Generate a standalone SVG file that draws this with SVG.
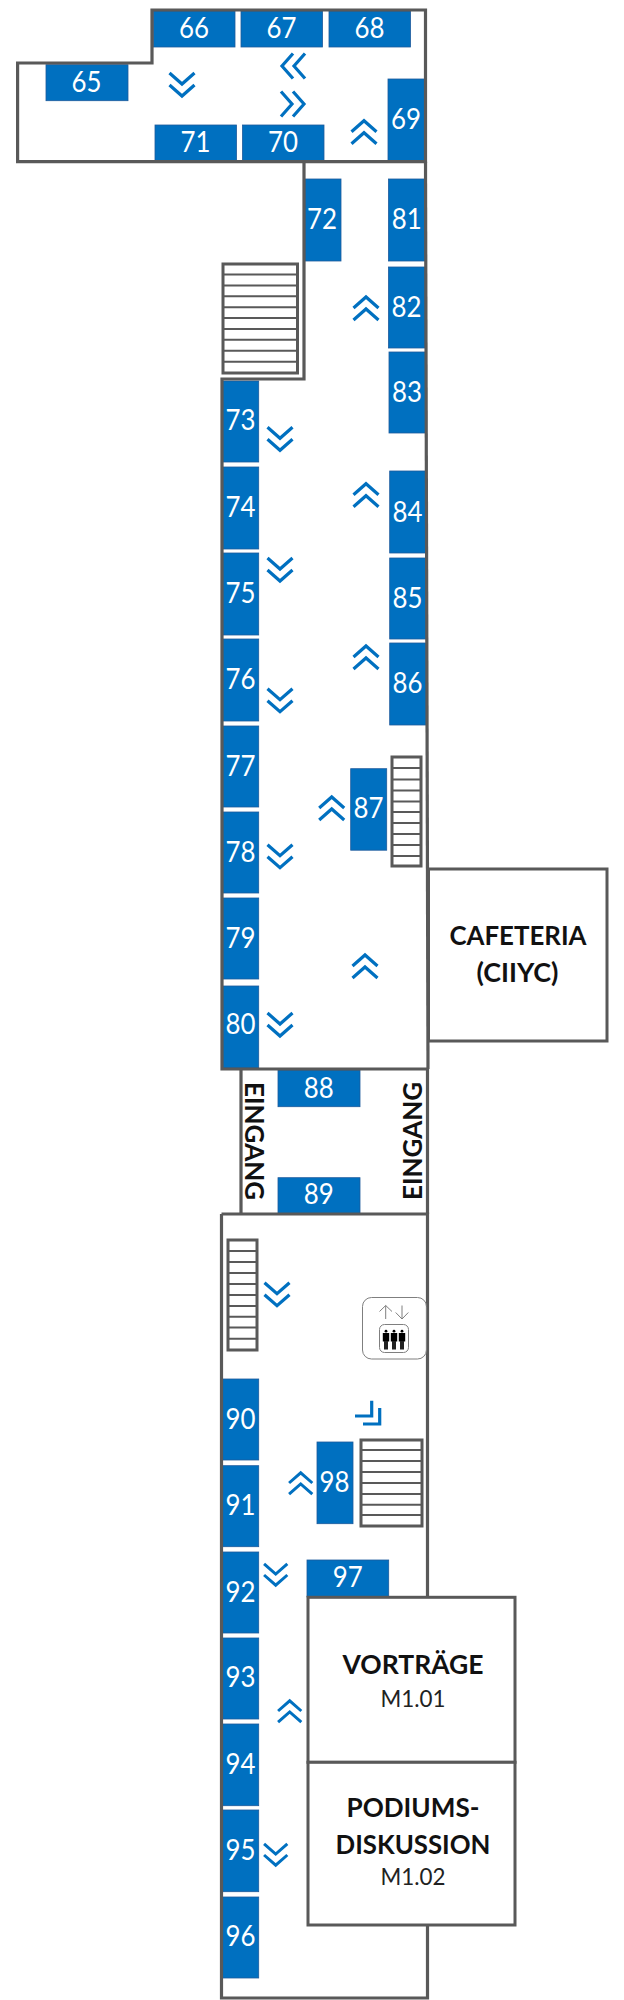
<svg xmlns="http://www.w3.org/2000/svg" xmlns:xlink="http://www.w3.org/1999/xlink" width="624" height="2000" viewBox="0 0 624 2000">
<style>
.bx{fill:#0070c0;stroke:#1d5a9c;stroke-width:.8}
.n{font-family:Lato,"Liberation Sans",sans-serif;font-size:29.5px;fill:#fff;text-anchor:middle}
.w{fill:none;stroke:#595959;stroke-width:3.2;stroke-linejoin:miter}
.room{fill:#fff;stroke:#595959;stroke-width:3}
.st{fill:#fff;stroke:#595959;stroke-width:3}
.tr{fill:none;stroke:#595959;stroke-width:2}
.l{font-family:Lato,"Liberation Sans",sans-serif;font-weight:700;font-size:26.5px;fill:#111;text-anchor:middle}
.s{font-family:Lato,"Liberation Sans",sans-serif;font-size:23px;fill:#222;text-anchor:middle}
.ch{fill:none;stroke:#0070c0;stroke-width:3.2}
.eg{fill:none;stroke:#7f7f7f;stroke-width:1}
</style>
<defs>
<path id="dn" class="ch" d="M-12.5,-12 L0,-1 L12.5,-12 M-12.5,0 L0,11 L12.5,0"/>
<g id="person"><circle cx="0" cy="1.2" r="1.4" fill="#000"/><rect x="-3.2" y="3" width="6.4" height="8.5" fill="#000"/><rect x="-2" y="11" width="4" height="8.5" fill="#222"/></g>
</defs>
<rect width="624" height="2000" fill="#fff"/>
<g id="booths">
<g id="b65"><rect class="bx" x="46" y="64.7" width="82" height="36"/><text class="n" x="86.5" y="91.7" textLength="30" lengthAdjust="spacingAndGlyphs">65</text></g>
<g id="b66"><rect class="bx" x="153.5" y="11" width="81.5" height="36"/><text class="n" x="194" y="37.5" textLength="30" lengthAdjust="spacingAndGlyphs">66</text></g>
<g id="b67"><rect class="bx" x="241" y="11" width="81.5" height="36"/><text class="n" x="281.5" y="37.5" textLength="30" lengthAdjust="spacingAndGlyphs">67</text></g>
<g id="b68"><rect class="bx" x="329" y="11" width="81.5" height="36"/><text class="n" x="369.5" y="37.5" textLength="30" lengthAdjust="spacingAndGlyphs">68</text></g>
<g id="b69"><rect class="bx" x="388" y="79" width="37" height="82"/><text class="n" x="406" y="129" textLength="30" lengthAdjust="spacingAndGlyphs">69</text></g>
<g id="b70"><rect class="bx" x="242.5" y="125" width="81.5" height="36"/><text class="n" x="283" y="152" textLength="30" lengthAdjust="spacingAndGlyphs">70</text></g>
<g id="b71"><rect class="bx" x="155" y="125" width="81.5" height="36"/><text class="n" x="195.5" y="152" textLength="30" lengthAdjust="spacingAndGlyphs">71</text></g>
<g id="b72"><rect class="bx" x="305" y="179" width="36" height="82"/><text class="n" x="322" y="229.3" textLength="30" lengthAdjust="spacingAndGlyphs">72</text></g>
<g id="b73"><rect class="bx" x="222.7" y="381" width="36" height="81"/><text class="n" x="240.6" y="430" textLength="30" lengthAdjust="spacingAndGlyphs">73</text></g>
<g id="b74"><rect class="bx" x="222.7" y="467" width="36" height="82"/><text class="n" x="240.6" y="517" textLength="30" lengthAdjust="spacingAndGlyphs">74</text></g>
<g id="b75"><rect class="bx" x="222.7" y="553" width="36" height="82"/><text class="n" x="240.6" y="603" textLength="30" lengthAdjust="spacingAndGlyphs">75</text></g>
<g id="b76"><rect class="bx" x="222.7" y="639" width="36" height="82"/><text class="n" x="240.6" y="689" textLength="30" lengthAdjust="spacingAndGlyphs">76</text></g>
<g id="b77"><rect class="bx" x="222.7" y="726" width="36" height="81"/><text class="n" x="240.6" y="776" textLength="30" lengthAdjust="spacingAndGlyphs">77</text></g>
<g id="b78"><rect class="bx" x="222.7" y="812" width="36" height="81"/><text class="n" x="240.6" y="861.7" textLength="30" lengthAdjust="spacingAndGlyphs">78</text></g>
<g id="b79"><rect class="bx" x="222.7" y="898" width="36" height="81"/><text class="n" x="240.6" y="947.7" textLength="30" lengthAdjust="spacingAndGlyphs">79</text></g>
<g id="b80"><rect class="bx" x="222.7" y="986" width="36" height="82"/><text class="n" x="240.6" y="1034" textLength="30" lengthAdjust="spacingAndGlyphs">80</text></g>
<g id="b81"><rect class="bx" x="388.5" y="179" width="36.5" height="82"/><text class="n" x="406.8" y="229.3" textLength="30" lengthAdjust="spacingAndGlyphs">81</text></g>
<g id="b82"><rect class="bx" x="388.5" y="267" width="36.5" height="81"/><text class="n" x="406.5" y="316.7" textLength="30" lengthAdjust="spacingAndGlyphs">82</text></g>
<g id="b83"><rect class="bx" x="389" y="352" width="37" height="81"/><text class="n" x="407" y="401.7" textLength="30" lengthAdjust="spacingAndGlyphs">83</text></g>
<g id="b84"><rect class="bx" x="389.7" y="471" width="36.5" height="82"/><text class="n" x="407.5" y="521.7" textLength="30" lengthAdjust="spacingAndGlyphs">84</text></g>
<g id="b85"><rect class="bx" x="389.7" y="558" width="36.5" height="81"/><text class="n" x="407.5" y="608" textLength="30" lengthAdjust="spacingAndGlyphs">85</text></g>
<g id="b86"><rect class="bx" x="389.7" y="643" width="36.5" height="82"/><text class="n" x="407.5" y="693.3" textLength="30" lengthAdjust="spacingAndGlyphs">86</text></g>
<g id="b87"><rect class="bx" x="350.7" y="768.7" width="36" height="81.5"/><text class="n" x="368.5" y="818.3" textLength="30" lengthAdjust="spacingAndGlyphs">87</text></g>
<g id="b88"><rect class="bx" x="278" y="1070" width="82" height="36.7"/><text class="n" x="318.7" y="1097.7" textLength="30" lengthAdjust="spacingAndGlyphs">88</text></g>
<g id="b89"><rect class="bx" x="278" y="1177.7" width="82" height="36"/><text class="n" x="318.7" y="1204.3" textLength="30" lengthAdjust="spacingAndGlyphs">89</text></g>
<g id="b90"><rect class="bx" x="222.7" y="1379" width="36" height="81"/><text class="n" x="240.6" y="1429" textLength="30" lengthAdjust="spacingAndGlyphs">90</text></g>
<g id="b91"><rect class="bx" x="222.7" y="1465.7" width="36" height="81"/><text class="n" x="240.6" y="1515" textLength="30" lengthAdjust="spacingAndGlyphs">91</text></g>
<g id="b92"><rect class="bx" x="222.7" y="1552" width="36" height="81"/><text class="n" x="240.6" y="1601.7" textLength="30" lengthAdjust="spacingAndGlyphs">92</text></g>
<g id="b93"><rect class="bx" x="222.7" y="1638" width="36" height="81"/><text class="n" x="240.6" y="1687.3" textLength="30" lengthAdjust="spacingAndGlyphs">93</text></g>
<g id="b94"><rect class="bx" x="222.7" y="1724" width="36" height="81.7"/><text class="n" x="240.6" y="1774" textLength="30" lengthAdjust="spacingAndGlyphs">94</text></g>
<g id="b95"><rect class="bx" x="222.7" y="1810" width="36" height="81.7"/><text class="n" x="240.6" y="1860" textLength="30" lengthAdjust="spacingAndGlyphs">95</text></g>
<g id="b96"><rect class="bx" x="222.7" y="1897" width="36" height="81"/><text class="n" x="240.6" y="1946" textLength="30" lengthAdjust="spacingAndGlyphs">96</text></g>
<g id="b97"><rect class="bx" x="307" y="1560" width="81.7" height="37"/><text class="n" x="347.7" y="1587.3" textLength="30" lengthAdjust="spacingAndGlyphs">97</text></g>
<g id="b98"><rect class="bx" x="317" y="1442" width="36" height="81.7"/><text class="n" x="334.5" y="1491.7" textLength="30" lengthAdjust="spacingAndGlyphs">98</text></g>
</g>
<g id="walls">
<path class="w" d="M17.6,63 H152 V10 H425.5 V161.7 H17.6 Z"/>
<path class="w" d="M304,161.7 V379 H222 V1069 H427.5"/>
<path class="w" d="M425.5,161.7 L428,1069"/>
<path class="w" d="M241,1069 V1214"/>
<path class="w" d="M427.5,1069 V1214"/>
<path class="w" d="M221.5,1214 H427.5 V1597"/>
<path class="w" d="M427.5,1925 V1998 H221.5 V1214"/>
</g>
<g id="stairs">
<g id="stair-a"><rect class="st" x="223" y="264" width="74.5" height="109"/><path class="tr" d="M223,274.5H297.5M223,285.4H297.5M223,296.3H297.5M223,307.2H297.5M223,318H297.5M223,329H297.5M223,339.8H297.5M223,350.7H297.5M223,361.7H297.5"/></g>
<g id="stair-b"><rect class="st" x="392" y="757" width="29" height="109"/><path class="tr" d="M392,768H421M392,779.5H421M392,790.5H421M392,801.5H421M392,812H421M392,823H421M392,834H421M392,845H421M392,856H421"/></g>
<g id="stair-c"><rect class="st" x="228" y="1240" width="29" height="110"/><path class="tr" d="M228,1251H257M228,1262H257M228,1273H257M228,1284H257M228,1295H257M228,1306H257M228,1316.7H257M228,1327.5H257M228,1338.7H257"/></g>
<g id="stair-d"><rect class="st" x="361" y="1440" width="61" height="86"/><path class="tr" d="M361,1450H422M361,1461H422M361,1472H422M361,1483H422M361,1494H422M361,1504.7H422M361,1515H422"/></g>
</g>
<g id="cafeteria"><rect class="room" x="428.5" y="869" width="178.5" height="172"/><text class="l" x="518" y="945" textLength="137" lengthAdjust="spacingAndGlyphs">CAFETERIA</text><text class="l" x="517.5" y="981.7" textLength="82" lengthAdjust="spacingAndGlyphs">(CIIYC)</text></g>
<g id="room-m101"><rect class="room" x="308" y="1597.3" width="207" height="165"/><text class="l" x="413" y="1674" textLength="141" lengthAdjust="spacingAndGlyphs">VORTRÄGE</text><text class="s" x="413" y="1706.7" textLength="65" lengthAdjust="spacingAndGlyphs">M1.01</text></g>
<g id="room-m102"><rect class="room" x="308" y="1762.3" width="207" height="162.7"/><text class="l" x="413" y="1816.7" textLength="133" lengthAdjust="spacingAndGlyphs">PODIUMS-</text><text class="l" x="413" y="1854" textLength="155" lengthAdjust="spacingAndGlyphs">DISKUSSION</text><text class="s" x="413" y="1884.7" textLength="65" lengthAdjust="spacingAndGlyphs">M1.02</text></g>
<g id="entrances">
<text class="l" transform="translate(245,1141) rotate(90)" textLength="118" lengthAdjust="spacingAndGlyphs">EINGANG</text>
<text class="l" transform="translate(422.3,1141) rotate(-90)" textLength="118" lengthAdjust="spacingAndGlyphs">EINGANG</text>
</g>
<g id="elevator">
<rect class="eg" x="362.5" y="1297.5" width="64" height="61.5" rx="9"/>
<rect class="eg" x="379.5" y="1324.5" width="29" height="28" rx="5"/>
<path class="eg" d="M385.7,1319V1305.5M379.5,1311.5L385.7,1305.5L392,1311.5M402,1305.5V1319M395.7,1312.5L402,1319L408.3,1312.5"/>
<use xlink:href="#person" href="#person" transform="translate(386,1330)"/>
<use xlink:href="#person" href="#person" transform="translate(394,1330)"/>
<use xlink:href="#person" href="#person" transform="translate(402,1330)"/>
</g>
<g id="chevrons">
<use href="#dn" transform="translate(182,85)"/>
<use href="#dn" transform="translate(293,66) rotate(90)"/>
<use href="#dn" transform="translate(293,104) rotate(-90)"/>
<use href="#dn" transform="translate(364,131.7) rotate(180)"/>
<use href="#dn" transform="translate(366,308) rotate(180)"/>
<use href="#dn" transform="translate(280,439.3)"/>
<use href="#dn" transform="translate(366,494.7) rotate(180)"/>
<use href="#dn" transform="translate(280,570)"/>
<use href="#dn" transform="translate(366,657) rotate(180)"/>
<use href="#dn" transform="translate(280,700.7)"/>
<use href="#dn" transform="translate(331.7,808) rotate(180)"/>
<use href="#dn" transform="translate(280,856.7)"/>
<use href="#dn" transform="translate(365,966) rotate(180)"/>
<use href="#dn" transform="translate(280,1025)"/>
<use href="#dn" transform="translate(277,1294.7)"/>
<use href="#dn" transform="translate(300.7,1483) rotate(180) scale(.93)"/>
<use href="#dn" transform="translate(275.7,1575) scale(.93)"/>
<use href="#dn" transform="translate(289.7,1711) rotate(180) scale(.93)"/>
<use href="#dn" transform="translate(275.7,1855) scale(.93)"/>
<path class="ch" d="M355,1416H371.7V1400.7M363,1424H379.7V1408"/>
</g>
</svg>
